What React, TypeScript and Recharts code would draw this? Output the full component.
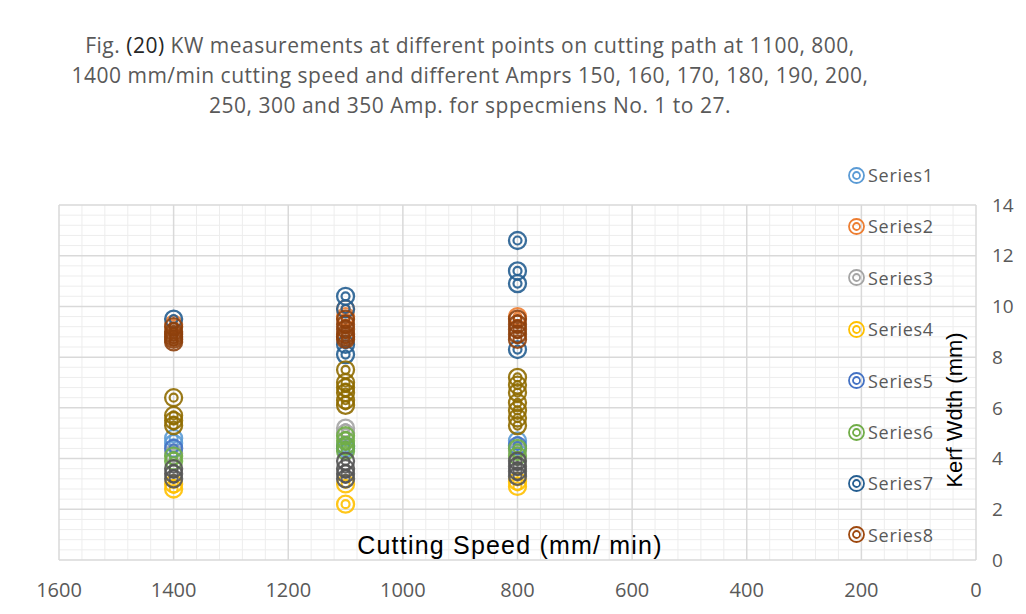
import { ScatterChart, Scatter, XAxis, YAxis, ReferenceLine } from "recharts";

// cutting speed (mm/min) vs kerf width (mm)
type Pt = { speed: number; kerf: number };

const series1: Pt[] = [
  { speed: 1400, kerf: 4.8 }, { speed: 1400, kerf: 4.6 },
  { speed: 1100, kerf: 4.4 },
  { speed: 800, kerf: 4.7 },
];
const series2: Pt[] = [
  { speed: 1400, kerf: 9.3 },
  { speed: 1100, kerf: 9.9 }, { speed: 1100, kerf: 9.6 },
  { speed: 800, kerf: 9.6 },
];
const series3: Pt[] = [
  { speed: 1400, kerf: 4.2 },
  { speed: 1100, kerf: 5.2 }, { speed: 1100, kerf: 5.0 },
  { speed: 800, kerf: 4.3 },
];
const series4: Pt[] = [
  { speed: 1400, kerf: 3.0 }, { speed: 1400, kerf: 2.8 },
  { speed: 1100, kerf: 3.0 }, { speed: 1100, kerf: 2.2 },
  { speed: 800, kerf: 3.1 }, { speed: 800, kerf: 2.9 },
];
const series5: Pt[] = [
  { speed: 1400, kerf: 4.4 },
  { speed: 1100, kerf: 4.5 },
  { speed: 800, kerf: 4.5 },
];
const series6: Pt[] = [
  { speed: 1400, kerf: 4.1 }, { speed: 1400, kerf: 3.9 },
  { speed: 1100, kerf: 4.9 }, { speed: 1100, kerf: 4.7 }, { speed: 1100, kerf: 4.5 }, { speed: 1100, kerf: 4.3 },
  { speed: 800, kerf: 4.4 }, { speed: 800, kerf: 4.1 },
];
const series7: Pt[] = [
  { speed: 1400, kerf: 9.5 },
  { speed: 1100, kerf: 10.4 }, { speed: 1100, kerf: 9.9 }, { speed: 1100, kerf: 8.5 }, { speed: 1100, kerf: 8.1 },
  { speed: 800, kerf: 12.6 }, { speed: 800, kerf: 11.4 }, { speed: 800, kerf: 10.9 }, { speed: 800, kerf: 8.3 },
];
const series8: Pt[] = [
  { speed: 1400, kerf: 9.2 }, { speed: 1400, kerf: 9.0 }, { speed: 1400, kerf: 8.9 },
  { speed: 1400, kerf: 8.8 }, { speed: 1400, kerf: 8.7 }, { speed: 1400, kerf: 8.6 },
  { speed: 1100, kerf: 9.5 }, { speed: 1100, kerf: 9.3 }, { speed: 1100, kerf: 9.1 },
  { speed: 1100, kerf: 8.9 }, { speed: 1100, kerf: 8.8 }, { speed: 1100, kerf: 8.7 },
  { speed: 800, kerf: 9.5 }, { speed: 800, kerf: 9.3 }, { speed: 800, kerf: 9.1 },
  { speed: 800, kerf: 8.9 }, { speed: 800, kerf: 8.7 },
];
const series9: Pt[] = [
  { speed: 1400, kerf: 3.6 }, { speed: 1400, kerf: 3.4 }, { speed: 1400, kerf: 3.2 },
  { speed: 1100, kerf: 3.9 }, { speed: 1100, kerf: 3.6 }, { speed: 1100, kerf: 3.4 }, { speed: 1100, kerf: 3.2 },
  { speed: 800, kerf: 3.9 }, { speed: 800, kerf: 3.7 }, { speed: 800, kerf: 3.5 }, { speed: 800, kerf: 3.3 },
];
const series10: Pt[] = [
  { speed: 1400, kerf: 6.4 }, { speed: 1400, kerf: 5.7 }, { speed: 1400, kerf: 5.5 }, { speed: 1400, kerf: 5.3 },
  { speed: 1100, kerf: 7.5 }, { speed: 1100, kerf: 7.0 }, { speed: 1100, kerf: 6.8 },
  { speed: 1100, kerf: 6.6 }, { speed: 1100, kerf: 6.3 }, { speed: 1100, kerf: 6.1 },
  { speed: 800, kerf: 7.2 }, { speed: 800, kerf: 6.9 }, { speed: 800, kerf: 6.6 }, { speed: 800, kerf: 6.2 },
  { speed: 800, kerf: 5.9 }, { speed: 800, kerf: 5.6 }, { speed: 800, kerf: 5.3 },
];

const seriesData = [series1, series2, series3, series4, series5, series6, series7, series8, series9, series10];
const seriesNames = ["Series1", "Series2", "Series3", "Series4", "Series5", "Series6", "Series7", "Series8", "Series9", "Series10"];
const seriesColors = ["#5B9BD5", "#ED7D31", "#A5A5A5", "#FFC000", "#4472C4", "#70AD47", "#255E91", "#8E400C", "#555555", "#8F6C00"];
const legendColors = ["#5B9BD5", "#ED7D31", "#A5A5A5", "#FFC000", "#4472C4", "#70AD47", "#255E91", "#9E480E"];

const xTicks = [0, 200, 400, 600, 800, 1000, 1200, 1400, 1600];
const yTicks = [0, 2, 4, 6, 8, 10, 12, 14];

// minor gridlines: 5 per major step
const xMinor: number[] = [];
for (let v = 0; v <= 1600; v += 40) if (v % 200 !== 0) xMinor.push(v);
const yMinor: number[] = [];
for (let i = 0; i <= 35; i++) if (i % 5 !== 0) yMinor.push(+(i * 0.4).toFixed(1));

const tickFont = { fontFamily: "'Open Sans', sans-serif", fontSize: 20, fill: "#595959" };

const ringShape = (color: string) => (props: any) => {
  const { cx, cy } = props;
  if (cx == null || cy == null) return <g />;
  return (
    <g>
      <circle cx={cx} cy={cy} r={8.5} fill="none" stroke={color} strokeWidth={2.3} strokeOpacity={0.9} />
      <circle cx={cx} cy={cy} r={4} fill="none" stroke={color} strokeWidth={2.2} strokeOpacity={0.9} />
    </g>
  );
};

export default function App() {
  return (
    <div style={{ position: "relative", width: 1010, height: 606, background: "#fff" }}>
      <div
        style={{
          position: "absolute",
          left: 0,
          top: 22,
          width: 924,
          textAlign: "center",
          fontFamily: "'Open Sans', sans-serif",
          fontSize: 21,
          letterSpacing: 0.5,
          lineHeight: "30px",
          color: "#595959",
        }}
      >
        Fig. <span style={{ color: "#262626" }}>(20)</span> KW measurements at different points on cutting path at 1100, 800,
        <br />
        1400 mm/min cutting speed and different Amprs 150, 160, 170, 180, 190, 200,
        <br />
        250, 300 and 350 Amp. for sppecmiens No. 1 to 27.
      </div>

      <ScatterChart width={1010} height={606} margin={{ top: 197, right: 12, left: 51, bottom: 14 }}>
        {xMinor.map((v) => (
          <ReferenceLine key={"xm" + v} x={v} stroke="#ededed" strokeWidth={1} />
        ))}
        {yMinor.map((v) => (
          <ReferenceLine key={"ym" + v} y={v} stroke="#ededed" strokeWidth={1} />
        ))}
        {xTicks.map((v) => (
          <ReferenceLine key={"xM" + v} x={v} stroke="#d9d9d9" strokeWidth={1.5} />
        ))}
        {yTicks.map((v) => (
          <ReferenceLine key={"yM" + v} y={v} stroke="#d9d9d9" strokeWidth={1.5} />
        ))}
        <XAxis
          type="number"
          dataKey="speed"
          domain={[0, 1600]}
          ticks={xTicks}
          reversed
          height={40}
          axisLine={false}
          tickLine={false}
          tickMargin={17}
          tick={tickFont}
          allowDataOverflow
        />
        <YAxis
          type="number"
          dataKey="kerf"
          orientation="right"
          domain={[0, 14]}
          ticks={yTicks}
          width={30}
          axisLine={false}
          tickLine={false}
          tickMargin={10}
          tick={{ ...tickFont, fontSize: 19 }}
          allowDataOverflow
        />
        {seriesData.map((d, i) => (
          <Scatter
            key={seriesNames[i]}
            name={seriesNames[i]}
            data={d}
            fill={seriesColors[i]}
            shape={ringShape(seriesColors[i])}
            isAnimationActive={false}
          />
        ))}
      </ScatterChart>

      <div
        style={{
          position: "absolute",
          left: 502,
          top: 537,
          transform: "translate(-50%, -50%)",
          fontFamily: "'Liberation Sans', Arial, sans-serif",
          fontSize: 25,
          letterSpacing: 1.2,
          whiteSpace: "nowrap",
          color: "#000",
        }}
      >
        Cutting Speed (mm/ min)
      </div>

      <div
        style={{
          position: "absolute",
          left: 947,
          top: 402,
          transform: "translate(-50%, -50%) rotate(-90deg)",
          fontFamily: "'Liberation Sans', Arial, sans-serif",
          fontSize: 22,
          whiteSpace: "nowrap",
          color: "#000",
        }}
      >
        Kerf Wdth (mm)
      </div>

      {/* legend: only the first eight entries fit, as in the original */}
      {seriesNames.slice(0, 8).map((name, i) => (
        <div
          key={name}
          style={{
            position: "absolute",
            left: 839,
            top: 167 + i * 51.4 - 13,
            height: 26,
            display: "flex",
            alignItems: "center",
            fontFamily: "'Open Sans', sans-serif",
            fontSize: 18,
            letterSpacing: 0.7,
            color: "#595959",
          }}
        >
          <svg width={19} height={19} style={{ marginRight: 2 }}>
            <circle cx={9.5} cy={9.5} r={7.5} fill="none" stroke={legendColors[i]} strokeWidth={1.8} />
            <circle cx={9.5} cy={9.5} r={3.5} fill="none" stroke={legendColors[i]} strokeWidth={1.8} />
          </svg>
          {name}
        </div>
      ))}
    </div>
  );
}
